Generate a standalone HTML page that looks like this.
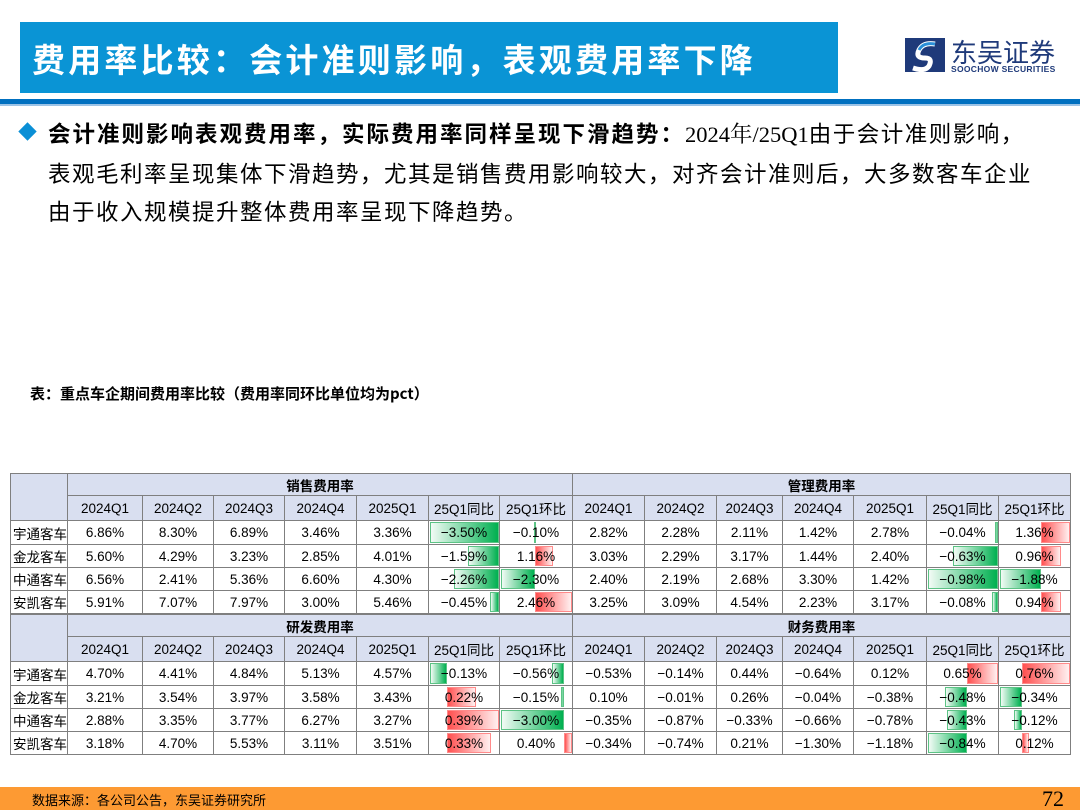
<!DOCTYPE html>
<html><head><meta charset="utf-8">
<style>
*{margin:0;padding:0;box-sizing:border-box}
body{width:1080px;height:810px;position:relative;background:#fff;font-family:"Liberation Sans","Noto Sans CJK SC",sans-serif;overflow:hidden;color:#000}
.abs{position:absolute}
.cell{position:absolute;border-right:1px solid #7f7f7f;border-bottom:1px solid #7f7f7f;font-size:13.5px;display:flex;align-items:center;justify-content:center;white-space:nowrap;overflow:hidden}
.hd{background:#d9dff0}
.txt{position:relative;z-index:2}
.bar{position:absolute;top:1px;bottom:1px;z-index:1}
</style></head><body>
<div class="abs" style="left:20px;top:22px;width:818px;height:71px;background:#0a94d5;"></div>
<div class="abs" style="left:32px;top:34px;font-size:33px;font-weight:bold;color:#fff;font-family:'Noto Sans CJK SC',sans-serif;letter-spacing:3.2px;white-space:nowrap">费用率比较：会计准则影响，表观费用率下降</div>
<div class="abs" style="left:905px;top:38px;width:160px;height:36px">
 <svg width="40" height="34" style="position:absolute;left:0;top:0"><rect width="40" height="34" fill="#1f3a7a"/><path d="M30 6 Q18 4 14 12 Q10 20 20 20 Q28 20 24 28 Q20 34 8 30" stroke="#fff" stroke-width="5" fill="none"/><path d="M30 6 Q18 4 14 12" stroke="#2a8fd8" stroke-width="3" fill="none"/></svg>
 <div style="position:absolute;left:46px;top:-5px;font-size:26px;color:#1f3a7a;font-family:'Noto Sans CJK SC',sans-serif;white-space:nowrap">东吴证券</div>
 <div style="position:absolute;left:46px;top:26px;font-size:8.5px;color:#1f3a7a;font-weight:bold;letter-spacing:0.3px;white-space:nowrap">SOOCHOW SECURITIES</div>
</div>
<div class="abs" style="left:0;top:99px;width:1080px;height:5px;background:#0070c0"></div>
<div class="abs" style="left:0;top:104px;width:1080px;height:2px;background:#9cc3e6"></div>

<div class="abs" style="left:21px;top:125px;width:13px;height:13px;background:#0a8fd6;transform:rotate(45deg)"></div>
<div class="abs" style="left:48px;top:114px;width:1030px;font-size:22.5px;line-height:38px;letter-spacing:1.5px;font-family:'Noto Sans CJK SC',sans-serif;white-space:nowrap"><b style="letter-spacing:2px">会计准则影响表观费用率，实际费用率同样呈现下滑趋势：</b><span style="font-family:'Liberation Serif','Noto Serif CJK SC',serif;letter-spacing:0">2024年/25Q1</span>由于会计准则影响，<br>表观毛利率呈现集体下滑趋势，尤其是销售费用影响较大，对齐会计准则后，大多数客车企业<br>由于收入规模提升整体费用率呈现下降趋势。</div>

<div class="abs" style="left:30px;top:383px;font-size:15px;font-weight:bold;font-family:'Noto Sans CJK SC',sans-serif">表：重点车企期间费用率比较（费用率同环比单位均为pct）</div>

<div id="tbl" class="abs" style="left:0;top:0;width:1080px;height:810px"></div>

<div class="abs" style="left:0;top:787px;width:1080px;height:23px;background:#fd9a33"></div>
<div class="abs" style="left:32px;top:790px;font-size:13px;font-family:'Noto Sans CJK SC',sans-serif">数据来源：各公司公告，东吴证券研究所</div>
<div class="abs" style="left:1042px;top:786px;font-size:22px;font-family:'Liberation Serif',serif">72</div>

<script>
const companies=["宇通客车","金龙客车","中通客车","安凯客车"];
const colHeaders=["2024Q1","2024Q2","2024Q3","2024Q4","2025Q1","25Q1同比","25Q1环比"];
const salesRate=[[6.86,8.30,6.89,3.46,3.36,-3.50,-0.10],[5.60,4.29,3.23,2.85,4.01,-1.59,1.16],[6.56,2.41,5.36,6.60,4.30,-2.26,-2.30],[5.91,7.07,7.97,3.00,5.46,-0.45,2.46]];
const mgmtRate=[[2.82,2.28,2.11,1.42,2.78,-0.04,1.36],[3.03,2.29,3.17,1.44,2.40,-0.63,0.96],[2.40,2.19,2.68,3.30,1.42,-0.98,-1.88],[3.25,3.09,4.54,2.23,3.17,-0.08,0.94]];
const rdRate=[[4.70,4.41,4.84,5.13,4.57,-0.13,-0.56],[3.21,3.54,3.97,3.58,3.43,0.22,-0.15],[2.88,3.35,3.77,6.27,3.27,0.39,-3.00],[3.18,4.70,5.53,3.11,3.51,0.33,0.40]];
const finRate=[[-0.53,-0.14,0.44,-0.64,0.12,0.65,0.76],[0.10,-0.01,0.26,-0.04,-0.38,-0.48,-0.34],[-0.35,-0.87,-0.33,-0.66,-0.78,-0.43,-0.12],[-0.34,-0.74,0.21,-1.30,-1.18,-0.84,0.12]];
const sectionNames=["销售费用率","管理费用率","研发费用率","财务费用率"];

const T=document.getElementById('tbl');
const colX=[10,68,143,214,285,357,429,500,573,645,717,783,854,927,999,1071];
const blockTop=[473,614];
const rowH=[23,25,24,23,23,23];
function mk(x,y,w,h,cls,html){const d=document.createElement('div');d.className='cell '+cls;d.style.left=x+'px';d.style.top=y+'px';d.style.width=w+'px';d.style.height=h+'px';if(html!==undefined)d.innerHTML='<span class="txt">'+html+'</span>';T.appendChild(d);return d;}
const sections=[salesRate,mgmtRate,rdRate,finRate];
for(let b=0;b<2;b++){
  let y=blockTop[b];
  let e=mk(colX[0],y,colX[1]-colX[0],rowH[0]+rowH[1],'hd');e.style.borderLeft='1px solid #7f7f7f';e.style.borderTop='1px solid #7f7f7f';
  
  for(let s=0;s<2;s++){
    const si=b*2+s;
    const x0=colX[1+s*7],x1=colX[8+s*7];
    let h=mk(x0,y,x1-x0,rowH[0],'hd',sectionNames[si]);h.style.borderTop='1px solid #7f7f7f';h.style.fontWeight='bold';h.style.fontFamily="'Noto Sans CJK SC',sans-serif";
    
    for(let c=0;c<7;c++){
      const cx=colX[1+s*7+c],cw=colX[2+s*7+c]-cx;
      let q=mk(cx,y+rowH[0],cw,rowH[1],'hd',colHeaders[c]);q.style.fontFamily="'Liberation Sans','Noto Sans CJK SC',sans-serif";
      
    }
  }
  let ry=y+rowH[0]+rowH[1];
  for(let r=0;r<4;r++){
    const h=rowH[2+r];
    let n=mk(colX[0],ry,colX[1]-colX[0],h,'',companies[r]);n.style.borderLeft='1px solid #7f7f7f';n.style.fontSize='13.5px';n.style.justifyContent='flex-start';n.style.paddingLeft='2px';n.style.fontFamily="'Noto Sans CJK SC',sans-serif";
    
    for(let s=0;s<2;s++){
      const data=sections[b*2+s];
      for(let c=0;c<7;c++){
        const cx=colX[1+s*7+c],cw=colX[2+s*7+c]-cx;
        const v=data[r][c];
        const d=mk(cx,ry,cw,h,'',v.toFixed(2).replace('-','−')+'%');
        
        if(c>=5){
          const col=data.map(rr=>rr[c]);
          const mn=Math.min(0,...col),mx=Math.max(0,...col);
          const span=mx-mn;const w=cw-2;
          const axis=1+w*(-mn/span);
          const len=w*Math.abs(v)/span;
          const bar=document.createElement('div');bar.className='bar';
          
          
          if(v<0){bar.style.left=(axis-len)+'px';bar.style.width=len+'px';bar.style.background='linear-gradient(to right,#f2fbf5,#00b050)';bar.style.border='1px solid #5cc385';}
          else{bar.style.left=axis+'px';bar.style.width=len+'px';bar.style.background='linear-gradient(to right,#ff5050,#fff0f0)';bar.style.border='1px solid #ff8a8a';}
          d.appendChild(bar);
        }
      }
    }
    ry+=h;
  }
}
</script>
</body></html>
